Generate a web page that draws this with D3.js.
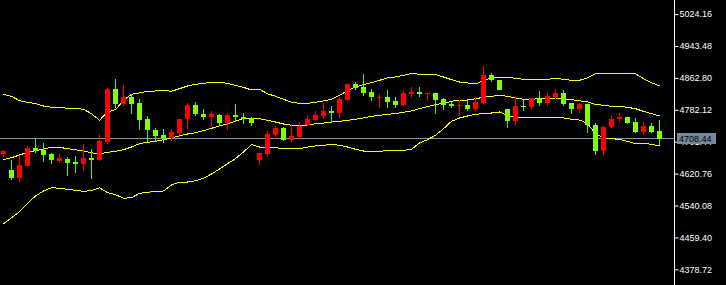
<!DOCTYPE html>
<html>
<head>
<meta charset="utf-8">
<script src="https://cdn.jsdelivr.net/npm/d3@7"></script>
<style>
  html, body { margin: 0; padding: 0; background: #000; }
  svg { display: block; }
</style>
</head>
<body>
<svg id="chart"></svg>
<script>
'use strict';

// candles, left to right
var opens = [4670.3, 4630.6, 4610.4, 4640.7, 4685.5, 4680.5, 4670.3, 4653.4, 4658.5, 4650.1,
    4645.8, 4660.2, 4654.4, 4700.7, 4834.0, 4796.8, 4814.5, 4799.3, 4758.9, 4731.0,
    4718.4, 4710.8, 4724.2, 4758.1, 4794.3, 4772.3, 4764.7, 4769.0, 4748.7, 4769.7,
    4764.7, 4762.1, 4655.9, 4670.3, 4718.4, 4735.3, 4705.7, 4713.3, 4743.7, 4756.3,
    4766.4, 4779.1, 4774.0, 4807.7, 4847.4, 4839.8, 4827.1, 4812.7, 4814.5, 4804.4,
    4795.0, 4822.1, 4827.1, 4822.1, 4824.6, 4809.4, 4797.6, 4792.5, 4794.3, 4784.2,
    4800.1, 4870.1, 4857.5, 4784.2, 4754.6, 4792.5, 4789.2, 4812.0, 4800.1, 4813.7,
    4824.6, 4799.3, 4784.9, 4796.8, 4744.4, 4677.9, 4738.6, 4758.9, 4763.9, 4751.3,
    4726.0, 4741.2, 4728.5];
var highs = [4680.5, 4655.9, 4668.6, 4690.6, 4709.0, 4698.9, 4673.6, 4670.3, 4663.5, 4665.3,
    4695.6, 4682.2, 4720.9, 4838.0, 4860.0, 4844.9, 4822.1, 4809.4, 4766.4, 4736.9,
    4734.3, 4733.6, 4758.9, 4800.1, 4801.9, 4783.4, 4779.1, 4772.3, 4774.0, 4796.8,
    4774.0, 4763.9, 4672.9, 4728.5, 4741.2, 4737.9, 4745.5, 4750.5, 4765.7, 4779.1,
    4799.3, 4791.7, 4815.3, 4847.4, 4853.2, 4872.7, 4834.7, 4822.1, 4832.2, 4814.5,
    4829.7, 4839.8, 4839.8, 4824.6, 4824.6, 4812.0, 4802.6, 4805.1, 4808.7, 4815.3,
    4892.9, 4875.2, 4857.5, 4784.2, 4817.8, 4807.7, 4812.0, 4829.7, 4824.6, 4834.7,
    4832.2, 4800.1, 4799.3, 4796.8, 4748.7, 4741.2, 4766.4, 4774.0, 4763.9, 4761.4,
    4751.3, 4748.7, 4756.3];
var lows = [4662.8, 4604.6, 4599.5, 4640.7, 4673.6, 4650.1, 4645.8, 4648.3, 4615.5, 4622.3,
    4628.1, 4607.1, 4653.4, 4696.4, 4786.7, 4791.0, 4771.5, 4731.0, 4700.7, 4702.5,
    4698.9, 4704.0, 4719.2, 4734.3, 4767.2, 4757.1, 4738.6, 4742.9, 4731.8, 4754.6,
    4746.2, 4741.9, 4643.3, 4662.8, 4709.0, 4703.2, 4700.7, 4708.3, 4740.4, 4753.0,
    4758.1, 4749.5, 4761.4, 4805.1, 4832.2, 4817.8, 4805.1, 4787.4, 4787.4, 4787.4,
    4791.0, 4812.7, 4815.3, 4805.1, 4772.3, 4782.4, 4787.4, 4767.2, 4779.9, 4779.9,
    4797.6, 4853.2, 4831.4, 4736.9, 4744.4, 4779.1, 4784.9, 4792.5, 4792.5, 4812.7,
    4792.5, 4772.3, 4774.8, 4724.2, 4667.8, 4667.8, 4736.1, 4751.3, 4747.0, 4723.5,
    4719.2, 4723.5, 4693.9];
var closes = [4677.9, 4609.6, 4642.5, 4686.3, 4677.2, 4668.6, 4655.9, 4659.5, 4648.3, 4645.8,
    4660.2, 4655.2, 4703.2, 4834.0, 4796.8, 4814.5, 4796.8, 4757.1, 4731.8, 4716.6,
    4710.0, 4726.0, 4758.9, 4795.0, 4770.7, 4764.7, 4770.7, 4749.5, 4769.7, 4763.2,
    4758.1, 4749.5, 4672.9, 4721.7, 4736.9, 4705.7, 4715.9, 4740.4, 4758.9, 4769.7,
    4779.9, 4774.0, 4809.4, 4847.4, 4837.3, 4824.6, 4813.7, 4815.3, 4802.6, 4794.3,
    4824.6, 4827.1, 4822.1, 4824.6, 4807.7, 4795.0, 4792.5, 4795.0, 4784.9, 4801.9,
    4870.1, 4856.7, 4833.0, 4754.6, 4792.5, 4790.0, 4812.0, 4800.1, 4817.0, 4824.6,
    4796.8, 4784.9, 4797.6, 4744.4, 4677.9, 4738.6, 4758.9, 4763.9, 4748.7, 4726.0,
    4741.2, 4726.7, 4708.44];

// bollinger bands as drawn
var upperBand = [4821.3, 4816.3, 4805.1, 4801.1, 4797.6, 4791.7, 4788.4, 4788.4, 4785.9, 4785.9,
    4783.4, 4772.3, 4755.6, 4776.6, 4782.4, 4806.2, 4821.3, 4824.6, 4828.9, 4829.7,
    4831.4, 4828.9, 4835.5, 4842.3, 4846.6, 4849.2, 4851.7, 4851.7, 4849.2, 4844.1,
    4839.0, 4832.2, 4834.0, 4822.8, 4816.3, 4808.7, 4801.1, 4798.6, 4798.6, 4801.1,
    4804.4, 4808.7, 4818.8, 4830.4, 4839.8, 4845.6, 4850.7, 4856.7, 4862.6, 4865.1,
    4869.4, 4874.4, 4871.9, 4871.9, 4870.9, 4865.1, 4858.3, 4852.4, 4849.9, 4847.4,
    4856.7, 4862.6, 4862.6, 4864.3, 4861.8, 4859.3, 4859.3, 4859.3, 4859.3, 4861.8,
    4859.3, 4856.7, 4856.7, 4862.6, 4873.4, 4874.4, 4874.4, 4874.4, 4874.4, 4873.4,
    4860.8, 4850.7, 4842.3];
var middleBand = [4655.9, 4661.0, 4667.8, 4674.6, 4678.7, 4683.0, 4687.3, 4687.3, 4683.7, 4681.2,
    4677.9, 4673.6, 4670.3, 4674.6, 4677.2, 4681.2, 4688.0, 4696.4, 4699.9, 4702.5,
    4706.5, 4710.8, 4715.9, 4720.9, 4724.2, 4729.3, 4735.3, 4741.2, 4746.2, 4753.8,
    4759.6, 4761.4, 4759.6, 4755.6, 4751.3, 4746.2, 4742.9, 4741.2, 4743.7, 4747.0,
    4748.7, 4751.3, 4753.0, 4755.6, 4758.1, 4761.4, 4765.7, 4768.2, 4770.7, 4772.3,
    4775.8, 4779.1, 4784.9, 4790.0, 4795.0, 4798.6, 4803.6, 4806.9, 4806.9, 4810.2,
    4813.7, 4816.3, 4818.8, 4816.3, 4812.0, 4808.7, 4808.7, 4810.2, 4810.2, 4812.0,
    4808.7, 4807.7, 4805.1, 4801.9, 4796.0, 4793.5, 4791.0, 4791.0, 4788.4, 4784.9,
    4778.3, 4772.3, 4766.4];
var lowerBand = [4494.1, 4509.2, 4524.4, 4545.6, 4564.1, 4576.8, 4585.1, 4583.6, 4581.1, 4578.5,
    4576.0, 4577.5, 4585.1, 4572.5, 4567.4, 4558.3, 4559.8, 4570.9, 4573.5, 4576.0,
    4576.8, 4591.9, 4598.8, 4599.5, 4602.8, 4608.9, 4619.8, 4632.4, 4645.8, 4658.5,
    4675.4, 4693.9, 4688.0, 4686.3, 4686.3, 4683.7, 4683.7, 4683.7, 4688.0, 4690.6,
    4692.3, 4694.9, 4692.3, 4688.0, 4682.2, 4677.9, 4677.2, 4677.2, 4678.7, 4679.7,
    4679.7, 4682.2, 4698.2, 4706.5, 4717.6, 4734.3, 4753.0, 4761.4, 4766.4, 4770.7,
    4772.3, 4774.0, 4776.6, 4768.2, 4763.2, 4761.4, 4761.4, 4761.4, 4761.4, 4761.4,
    4761.4, 4758.1, 4756.3, 4747.0, 4721.7, 4710.8, 4709.0, 4707.5, 4702.5, 4696.4,
    4697.4, 4694.9, 4690.6];

var tickLabels = [5024.16, 4943.48, 4862.80, 4782.12, 4701.44, 4620.76, 4540.08, 4459.40, 4378.72];
var lastPrice = 4708.44;

var width = 726;
var height = 285;
var axisX = 674.5;

var svg = d3.select("#chart")
    .attr("width", width)
    .attr("height", height)
    .style("background", "#000");

var x = d3.scaleLinear()
    .domain([0, closes.length - 1])
    .range([3.5, 659.5]);

var y = d3.scaleLinear()
    .domain([4378.72, 5024.16])
    .range([269.3, 14.1]);

// current price line
svg.append("line")
    .attr("x1", 0)
    .attr("x2", axisX)
    .attr("y1", Math.round(y(lastPrice)) - 0.5)
    .attr("y2", Math.round(y(lastPrice)) - 0.5)
    .attr("stroke", "#8797a8")
    .attr("stroke-width", 1)
    .style("shape-rendering", "crispEdges");

// bands
var bandLine = d3.line()
    .x(function(d, i) { return x(i); })
    .y(function(d) { return y(d); });

[upperBand, middleBand, lowerBand].forEach(function(band) {
    svg.append("path")
        .datum(band)
        .attr("d", bandLine)
        .attr("fill", "none")
        .attr("stroke", "#ffff00")
        .attr("stroke-width", 1)
        .style("shape-rendering", "crispEdges");
});

var candles = closes.map(function(c, i) {
    return {i: i, o: opens[i], h: highs[i], l: lows[i], c: c};
});

function candleColor(d) { return d.c >= d.o ? "#ff0000" : "#33ff00"; }

var bar = svg.selectAll("g.candle")
    .data(candles)
    .enter().append("g")
    .attr("class", "candle");

bar.append("line")
    .attr("x1", function(d) { return x(d.i); })
    .attr("x2", function(d) { return x(d.i); })
    .attr("y1", function(d) { return Math.round(y(d.h)); })
    .attr("y2", function(d) { return Math.round(y(d.l)); })
    .attr("stroke", candleColor)
    .attr("stroke-width", 1);

bar.append("rect")
    .attr("x", function(d) { return x(d.i) - 2.5; })
    .attr("y", function(d) { return Math.round(y(Math.max(d.o, d.c))); })
    .attr("width", 5)
    .attr("height", function(d) {
        return Math.max(1, Math.round(y(Math.min(d.o, d.c))) - Math.round(y(Math.max(d.o, d.c))));
    })
    .attr("fill", function(d) { return d.c >= d.o ? "#ff0000" : "#7fff00"; })
    .style("shape-rendering", "crispEdges");

// price axis on the right
var axis = d3.axisRight(y)
    .tickValues(tickLabels)
    .tickFormat(d3.format(".2f"))
    .tickSize(4)
    .tickSizeOuter(0);

var gAxis = svg.append("g")
    .attr("transform", "translate(" + axisX + ",0)")
    .call(axis);

gAxis.select(".domain").remove();
gAxis.selectAll(".tick line").attr("stroke", "#ffffff");
gAxis.selectAll(".tick text")
    .attr("x", 5)
    .attr("fill", "#ffffff")
    .style("font-family", "'Liberation Sans', Arial, sans-serif")
    .style("font-size", "9px");

svg.append("line")
    .attr("x1", axisX)
    .attr("x2", axisX)
    .attr("y1", 0)
    .attr("y2", height)
    .attr("stroke", "#ffffff")
    .attr("stroke-width", 1);

// last price tag, covers the tick label under it like the terminal does
var py = y(lastPrice);
svg.append("rect")
    .attr("x", 677)
    .attr("y", Math.round(py) - 6)
    .attr("width", 39)
    .attr("height", 11)
    .attr("fill", "#778899");

svg.append("text")
    .attr("x", 679)
    .attr("y", Math.round(py) - 0.5)
    .attr("dy", "0.35em")
    .attr("fill", "#000")
    .style("font-family", "'Liberation Sans', Arial, sans-serif")
    .style("font-size", "9px")
    .text(d3.format(".2f")(lastPrice));
</script>
</body>
</html>
